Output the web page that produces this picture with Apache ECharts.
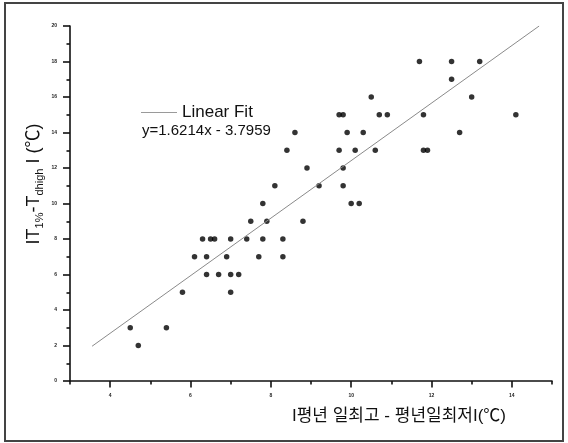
<!DOCTYPE html>
<html><head><meta charset="utf-8">
<script src="https://cdn.jsdelivr.net/npm/echarts@6/dist/echarts.min.js"></script>
<style>html,body{margin:0;padding:0;background:#fff}#c{width:568px;height:443px}</style>
</head><body><div id="c"></div>
<script>
// data
const xValues = [4.5,4.7,5.4,5.8,6.1,6.3,6.4,6.4,6.5,6.6,6.7,6.9,7.0,7.0,7.0,7.2,7.4,7.5,7.7,7.8,7.8,7.9,8.1,8.3,8.3,8.4,8.6,8.8,8.9,9.2,9.7,9.8,9.7,9.8,9.8,9.9,10.0,10.1,10.2,10.3,10.5,10.6,10.7,10.9,11.7,11.8,11.8,11.9,12.5,12.5,12.7,13.0,13.2,14.1];
const yValues = [3,2,3,5,7,8,7,6,8,8,6,7,8,6,5,6,8,9,7,8,10,9,11,8,7,13,14,9,12,11,15,15,13,12,11,14,10,13,10,14,16,13,15,15,18,15,13,13,18,17,14,16,18,15];
const fitX = [3.55, 14.68];
const fitY = [1.96, 20.0];
const xMajorTicks = [4,6,8,10,12,14];
const xMinorTicks = [3,5,7,9,11,13,15];
const yTickLabels = [0,2,4,6,8,10,12,14,16,18,20];
const seriesName = 'Linear Fit';
const equationText = 'y=1.6214x - 3.7959';
const xTitle = 'I평년 일최고 - 평년일최저I(℃)';

const FONT = '"Liberation Sans", Arial, "Noto Sans CJK KR", sans-serif';
const points = xValues.map((x, i) => [x, yValues[i]]);
const fitPts = fitX.map((x, i) => [x, fitY[i]]);

const chart = echarts.init(document.getElementById('c'), null, {renderer: 'canvas'});
const axisLineStyle = {color: '#111', width: 1.6};
const tickStyle = {color: '#111', width: 1.6};
chart.setOption({
  animation: false,
  backgroundColor: '#fff',
  grid: {left: 70, right: 16, top: 26, bottom: 62},
  legend: {
    data: [{name: seriesName, icon: 'rect', itemStyle: {color: '#9a9a9a'}}],
    left: 141, top: 104, padding: 0, itemWidth: 36, itemHeight: 1, itemGap: 0,
    textStyle: {fontFamily: FONT, fontSize: 17, color: '#111'},
    selectedMode: false
  },
  xAxis: [{
    type: 'value', min: 3, max: 15, interval: 1,
    axisLine: {show: true, onZero: false, lineStyle: axisLineStyle},
    axisTick: {show: true, customValues: xMinorTicks, length: 3.5, lineStyle: tickStyle},
    axisLabel: {customValues: xMajorTicks, fontSize: 5, fontWeight: 'bold', color: '#222', margin: 12, fontFamily: FONT},
    splitLine: {show: false}
  }, {
    type: 'value', min: 3, max: 15, interval: 1, position: 'bottom',
    axisLine: {show: false},
    axisTick: {show: true, customValues: xMajorTicks, length: 6.5, lineStyle: tickStyle},
    axisLabel: {show: false},
    splitLine: {show: false}
  }],
  yAxis: {
    type: 'value', min: 0, max: 20, interval: 2,
    axisLine: {show: true, onZero: false, lineStyle: axisLineStyle},
    axisTick: {show: true, length: 7, lineStyle: tickStyle},
    minorTick: {show: true, splitNumber: 2, length: 3.5, lineStyle: tickStyle},
    axisLabel: {fontSize: 5, fontWeight: 'bold', color: '#222', margin: 13, fontFamily: FONT,
      formatter: v => yTickLabels.indexOf(v) >= 0 ? String(v) : ''},
    splitLine: {show: false}
  },
  series: [{
    name: seriesName, type: 'line', data: fitPts, symbol: 'none', silent: true,
    lineStyle: {color: '#8a8a8a', width: 1}, itemStyle: {color: '#8a8a8a'}
  }, {
    name: 'data', type: 'scatter', data: points, symbol: 'circle', symbolSize: 5.5,
    itemStyle: {color: '#000'}
  }],
  graphic: [
    {type: 'rect', shape: {x: 5, y: 3, width: 558, height: 438}, style: {fill: 'none', stroke: '#444', lineWidth: 2}, silent: true},
    {type: 'text', x: 142, y: 131, style: {text: equationText, font: '15px ' + FONT, fill: '#111', align: 'left', verticalAlign: 'middle', textAlign: 'left', textVerticalAlign: 'middle'}},
    {type: 'text', x: 292, y: 416, style: {text: xTitle, font: '17px ' + FONT, fill: '#111', align: 'left', verticalAlign: 'middle', textAlign: 'left', textVerticalAlign: 'middle'}},
    {type: 'text', x: 34, y: 184, rotation: Math.PI / 2,
      style: {
        text: '{m|IT}{s|1%}{m|-T}{s|dhigh}{m| I (℃)}',
        align: 'center', verticalAlign: 'middle', textAlign: 'center', textVerticalAlign: 'middle',
        fill: '#111',
        rich: {
          m: {fontSize: 18, fontFamily: FONT, lineHeight: 22, fill: '#111', color: '#111'},
          s: {fontSize: 11, fontFamily: FONT, lineHeight: 8, verticalAlign: 'bottom', fill: '#111', color: '#111'}
        }
      }}
  ]
});
</script></body></html>
